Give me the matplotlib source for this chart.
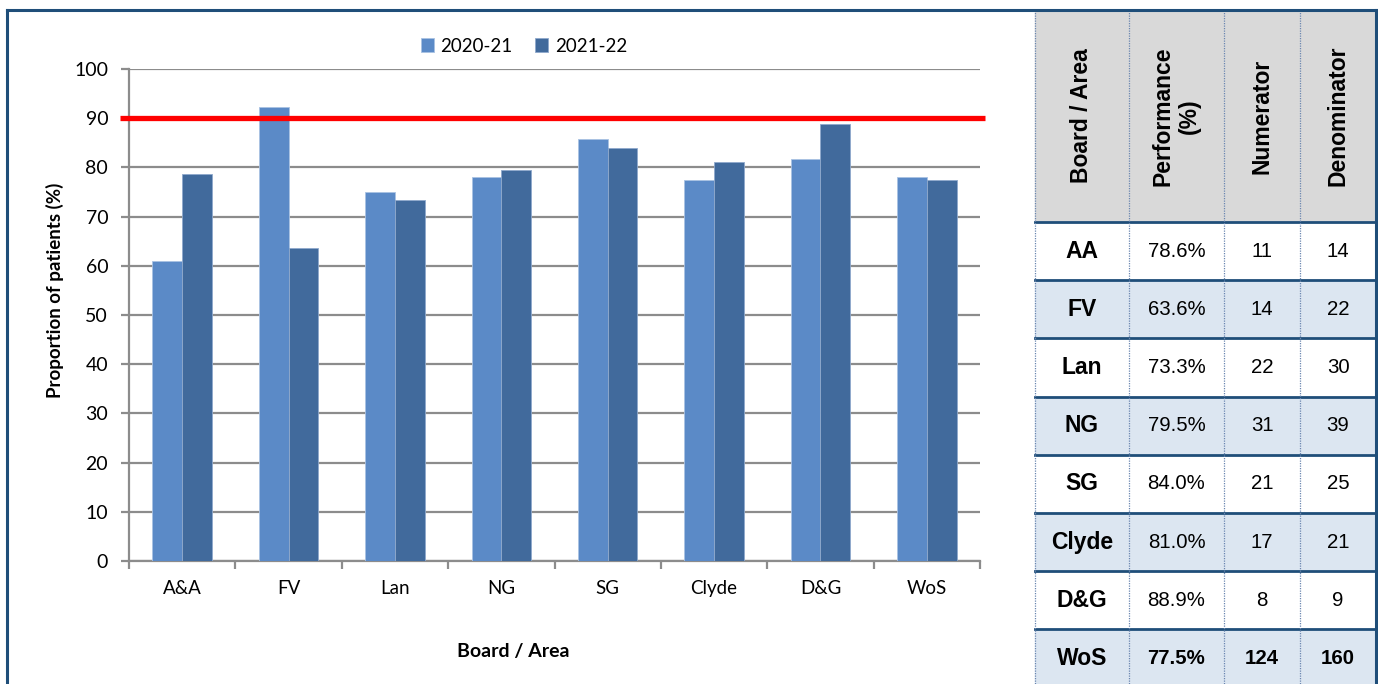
import matplotlib
matplotlib.use("Agg")
import matplotlib.pyplot as plt
import numpy as np

# Chart data
boards = ["A&A", "FV", "Lan", "NG", "SG", "Clyde", "D&G", "WoS"]
perf_2021 = [61.0, 92.3, 75.0, 78.0, 85.7, 77.4, 81.8, 78.0]
perf_2122 = [78.6, 63.6, 73.3, 79.5, 84.0, 81.0, 88.9, 77.5]
series_labels = ["2020-21", "2021-22"]
target = 90

# Table data
table_boards = ["AA", "FV", "Lan", "NG", "SG", "Clyde", "D&G", "WoS"]
table_perf = [78.6, 63.6, 73.3, 79.5, 84.0, 81.0, 88.9, 77.5]
numerators = [11, 14, 22, 31, 21, 17, 8, 124]
denominators = [14, 22, 30, 39, 25, 21, 9, 160]
headers = ["Board / Area", "Performance\n(%)", "Numerator", "Denominator"]

W, H = 1378, 684
fig = plt.figure(figsize=(W / 100, H / 100), dpi=100)

chart_font = "Lato"
table_font = "Liberation Sans"
border_blue = "#1F4E79"
light_bar = "#5B8AC7"
dark_bar = "#416A9C"
grid_grey = "#8C8C8C"

# background overlay in pixel coordinates (borders + table)
bg = fig.add_axes([0, 0, 1, 1])
bg.set_xlim(0, W)
bg.set_ylim(H, 0)
bg.axis("off")

# chart axes
left, right, top, bottom = 129, 980, 69, 561
ax = fig.add_axes([left / W, 1 - bottom / H, (right - left) / W, (bottom - top) / H])

x = np.arange(len(boards))
bw = 0.28
ax.bar(x - bw / 2, perf_2021, bw, color=light_bar, edgecolor="#A9C2E3", linewidth=0.6,
       label=series_labels[0], zorder=3)
ax.bar(x + bw / 2, perf_2122, bw, color=dark_bar, edgecolor="#8FA9CC", linewidth=0.6,
       label=series_labels[1], zorder=3)

ax.set_xlim(-0.5, len(boards) - 0.5)
ax.set_ylim(0, 100)
ax.set_yticks(range(0, 101, 10))
ax.yaxis.grid(True, color=grid_grey, linewidth=1.6, zorder=0)
ax.set_axisbelow(True)

ax.set_xticks(x)
ax.set_xticklabels(boards, fontfamily=chart_font, fontsize=13.5)
ax.set_xticks(np.arange(-0.5, len(boards), 1), minor=True)
ax.tick_params(axis="x", which="major", length=0, pad=14)
ax.tick_params(axis="x", which="minor", length=6, width=1.6, color=grid_grey, direction="out")
ax.tick_params(axis="y", length=6, width=1.6, color=grid_grey, pad=9, labelsize=14)
for lab in ax.get_yticklabels():
    lab.set_fontfamily(chart_font)

for s in ["top", "right"]:
    ax.spines[s].set_visible(False)
for s in ["left", "bottom"]:
    ax.spines[s].set_color(grid_grey)
    ax.spines[s].set_linewidth(1.6)

# target line (spills a bit past the plot area, like the drawn shape)
ax.plot([-0.585, len(boards) - 0.455], [target, target], color="#FF0000", linewidth=3.8,
        clip_on=False, zorder=5, solid_capstyle="butt")

fig.text(55 / W, 1 - 290 / H, "Proportion of patients (%)", rotation=90, ha="center",
         va="center", fontfamily=chart_font, fontweight="bold", fontsize=13.5)
fig.text(513 / W, 1 - 652 / H, "Board / Area", ha="center", va="center",
         fontfamily=chart_font, fontweight="bold", fontsize=14)

leg = fig.legend(loc="center", bbox_to_anchor=(524 / W, 1 - 46 / H), ncol=2, frameon=False,
                 handlelength=0.7, handleheight=0.7, handletextpad=0.35, columnspacing=1.2,
                 prop={"family": chart_font, "size": 13.5})

# ---- table ----
col_edges = [1035, 1129, 1224, 1300, 1376]
head_top, head_bot = 10, 222
row_h = 58.2
light_row = "#DCE6F1"

bg.add_patch(plt.Rectangle((col_edges[0], head_top), col_edges[-1] - col_edges[0],
                           head_bot - head_top, color="#D9D9D9", zorder=1))
for i in range(len(table_boards)):
    y0 = head_bot + i * row_h
    fc = light_row if i % 2 == 1 else "white"
    bg.add_patch(plt.Rectangle((col_edges[0], y0), col_edges[-1] - col_edges[0], row_h,
                               color=fc, zorder=1))
    yc = y0 + row_h / 2
    last = i == len(table_boards) - 1
    w = "bold" if last else "normal"
    cells = [table_boards[i], f"{table_perf[i]:.1f}%", str(numerators[i]), str(denominators[i])]
    for j, txt in enumerate(cells):
        xc = (col_edges[j] + col_edges[j + 1]) / 2
        bg.text(xc, yc, txt, ha="center", va="center", fontfamily=table_font,
                fontsize=16.5 if j == 0 else 14.7, fontweight="bold" if j == 0 else w, zorder=3)
    bg.plot([col_edges[0], col_edges[-1]], [y0, y0], color=border_blue, linewidth=2, zorder=2)

for j, h in enumerate(headers):
    xc = (col_edges[j] + col_edges[j + 1]) / 2
    bg.text(xc, 116, h, rotation=90, ha="center", va="center", multialignment="center",
            fontfamily=table_font, fontsize=16.5, fontweight="bold", linespacing=1.2, zorder=3)

for xe in col_edges[:-1]:
    bg.plot([xe, xe], [head_top, H], color="#6A86B0", linewidth=0.9, linestyle=(0, (1, 1)), zorder=2)

# outer border
bg.plot([7, 1376], [10, 10], color=border_blue, linewidth=2.2, zorder=4)
bg.plot([7, 7], [10, H], color=border_blue, linewidth=2.2, zorder=4)
bg.plot([1376, 1376], [10, H], color=border_blue, linewidth=2.2, zorder=4)

fig.savefig("out.png", dpi=100, facecolor="white")
